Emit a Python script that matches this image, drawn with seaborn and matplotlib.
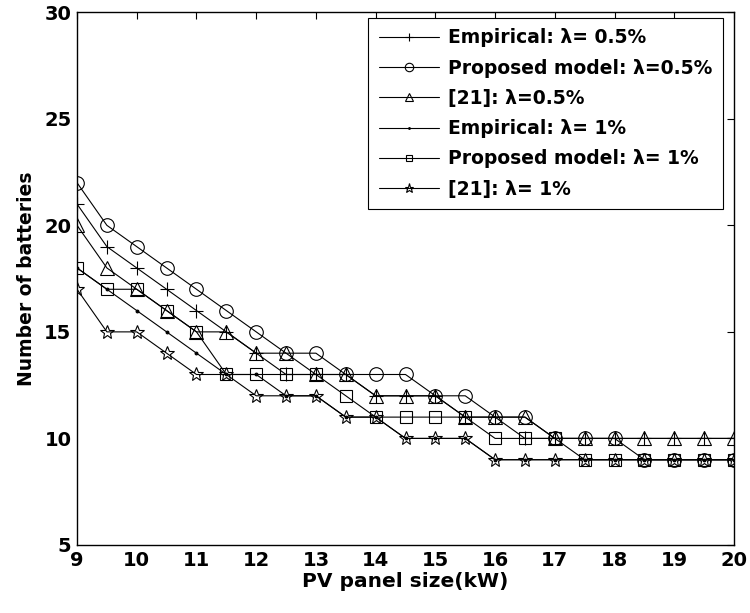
import numpy as np
import pandas as pd
import matplotlib
matplotlib.use("Agg")
import matplotlib.pyplot as plt
import seaborn as sns

# PV panel sizes (kW)
pv_size = [9, 9.5, 10, 10.5, 11, 11.5, 12, 12.5, 13, 13.5, 14, 14.5,
           15, 15.5, 16, 16.5, 17, 17.5, 18, 18.5, 19, 19.5, 20]

# Number of batteries for each method / loss-of-load level
empirical_05 = [21, 19, 18, 17, 16, 15, 14, 13, 13, 13, 12, 12,
                12, 11, 11, 10, 10, 10, 10, 10, 10, 10, 10]
proposed_05 = [22, 20, 19, 18, 17, 16, 15, 14, 14, 13, 13, 13,
               12, 12, 11, 11, 10, 10, 10, 9, 9, 9, 9]
ref21_05 = [20, 18, 17, 16, 15, 15, 14, 14, 13, 13, 12, 12,
            12, 11, 11, 11, 10, 10, 10, 10, 10, 10, 10]
empirical_1 = [18, 17, 16, 15, 14, 13, 13, 12, 12, 11, 11, 10,
               10, 10, 9, 9, 9, 9, 9, 9, 9, 9, 9]
proposed_1 = [18, 17, 17, 16, 15, 13, 13, 13, 13, 12, 11, 11,
              11, 11, 10, 10, 10, 9, 9, 9, 9, 9, 9]
ref21_1 = [17, 15, 15, 14, 13, 13, 12, 12, 12, 11, 11, 10,
           10, 10, 9, 9, 9, 9, 9, 9, 9, 9, 9]

labels = ["Empirical: λ= 0.5%", "Proposed model: λ=0.5%", "[21]: λ=0.5%",
          "Empirical: λ= 1%", "Proposed model: λ= 1%", "[21]: λ= 1%"]
series = [empirical_05, proposed_05, ref21_05, empirical_1, proposed_1, ref21_1]
markers = ["+", "o", "^", ".", "s", "*"]
msizes = [9.5, 9.8, 10, 4, 8, 10.5]

x_ticks = list(range(9, 21))
y_ticks = [5, 10, 15, 20, 25, 30]

sns.set_style("white")
plt.rcParams["font.family"] = ["DejaVu Sans"]
plt.rcParams["font.weight"] = "bold"
plt.rcParams["text.color"] = "black"
plt.rcParams["axes.labelcolor"] = "black"
plt.rcParams["xtick.color"] = "black"
plt.rcParams["ytick.color"] = "black"

fig = plt.figure(figsize=(7.5, 6.13), dpi=100)
ax = fig.add_axes([0.1027, 0.111, 0.876, 0.869])

for lab, vals, mk, ms in zip(labels, series, markers, msizes):
    df = pd.DataFrame({"x": pv_size, "y": vals})
    sns.lineplot(data=df, x="x", y="y", ax=ax, color="black", linewidth=0.8,
                 marker=mk, markersize=ms,
                 markerfacecolor="none" if mk != "." else "black",
                 markeredgecolor="black", markeredgewidth=0.8, label=lab)

ax.set_xlim(9, 20)
ax.set_ylim(5, 30)
ax.set_xticks(x_ticks)
ax.set_yticks(y_ticks)
ax.tick_params(direction="in", top=True, right=True, length=5, width=0.8,
               labelsize=14, pad=4, colors="black")
for t in ax.get_xticklabels() + ax.get_yticklabels():
    t.set_fontweight("bold")
for s in ax.spines.values():
    s.set_linewidth(1.0)
    s.set_color("black")

ax.set_xlabel("PV panel size(kW)", fontsize=14.5, fontweight="bold",
              labelpad=2, color="black")
ax.set_ylabel("Number of batteries", fontsize=13.5, fontweight="bold",
              labelpad=6, color="black")

leg = ax.legend(loc="upper right", bbox_to_anchor=(0.983, 0.989),
                borderaxespad=0, fontsize=13.5,
                frameon=True, fancybox=False, edgecolor="black", framealpha=1,
                handlelength=3.2, handletextpad=0.5, labelspacing=0.6,
                borderpad=0.55, markerscale=0.62)
leg.get_frame().set_linewidth(0.8)
for t in leg.get_texts():
    t.set_fontweight("bold")
    t.set_color("black")

fig.savefig("out.png", dpi=100)
